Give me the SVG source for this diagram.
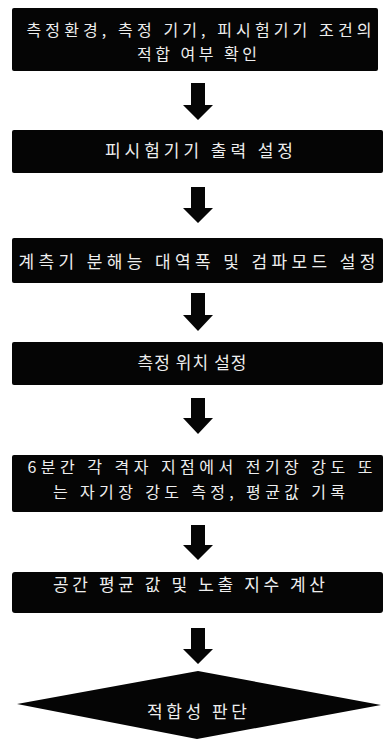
<svg xmlns="http://www.w3.org/2000/svg" width="383" height="739" viewBox="0 0 383 739">
<style>
.box{fill:#050505;}
.t{font-family:"Noto Sans CJK KR","Noto Sans",sans-serif;font-size:17px;fill:#eeeeee;text-anchor:middle;}
.s{font-size:16px;}
.arr{fill:#050505;}
</style>
<rect width="383" height="739" fill="#ffffff"/>
<g id="node1"><rect class="box" x="12" y="8" width="366" height="63" rx="2"/>
<text class="t s" x="199" y="36" textLength="345" lengthAdjust="spacing">측정환경, 측정 기기, 피시험기기 조건의</text>
<text class="t s" x="197" y="60" textLength="120" lengthAdjust="spacing">적합 여부 확인</text></g>
<g id="node2"><rect class="box" x="12" y="130" width="371" height="43" rx="2"/>
<text class="t" x="199" y="157" textLength="188" lengthAdjust="spacing">피시험기기 출력 설정</text></g>
<g id="node3"><rect class="box" x="12" y="238" width="371" height="45" rx="2"/>
<text class="t" x="197" y="268" textLength="357" lengthAdjust="spacing">계측기 분해능 대역폭 및 검파모드 설정</text></g>
<g id="node4"><rect class="box" x="12" y="342" width="371" height="43" rx="2"/>
<text class="t" x="192" y="369" textLength="109" lengthAdjust="spacing">측정 위치 설정</text></g>
<g id="node5"><rect class="box" x="12" y="455" width="371" height="57" rx="2"/>
<text class="t s" x="200" y="473" textLength="345" lengthAdjust="spacing">6분간 각 격자 지점에서 전기장 강도 또</text>
<text class="t s" x="199" y="498" textLength="292" lengthAdjust="spacing">는 자기장 강도 측정, 평균값 기록</text></g>
<g id="node6"><rect class="box" x="12" y="572" width="371" height="41" rx="3"/>
<text class="t" x="189" y="591" textLength="272" lengthAdjust="spacing">공간 평균 값 및 노출 지수 계산</text></g>
<g id="node7"><polygon class="box" points="198,671 381,705 197,739 17,704"/>
<text class="t" x="197" y="718" textLength="100" lengthAdjust="spacing">적합성 판단</text></g>
<g id="connectors">
<polygon class="arr" points="191,83 205,83 205,105 213,105 198,120 183,105 191,105"/>
<polygon class="arr" points="191,187 205,187 205,208 213,208 198,223 183,208 191,208"/>
<polygon class="arr" points="191,293 205,293 205,315 213,315 198,331 183,315 191,315"/>
<polygon class="arr" points="191,398 205,398 205,418 213,418 198,434 183,418 191,418"/>
<polygon class="arr" points="191,525 205,525 205,545 213,545 198,560 183,545 191,545"/>
<polygon class="arr" points="191,628 205,628 205,649 213,649 198,664 183,649 191,649"/>
</g>
</svg>
